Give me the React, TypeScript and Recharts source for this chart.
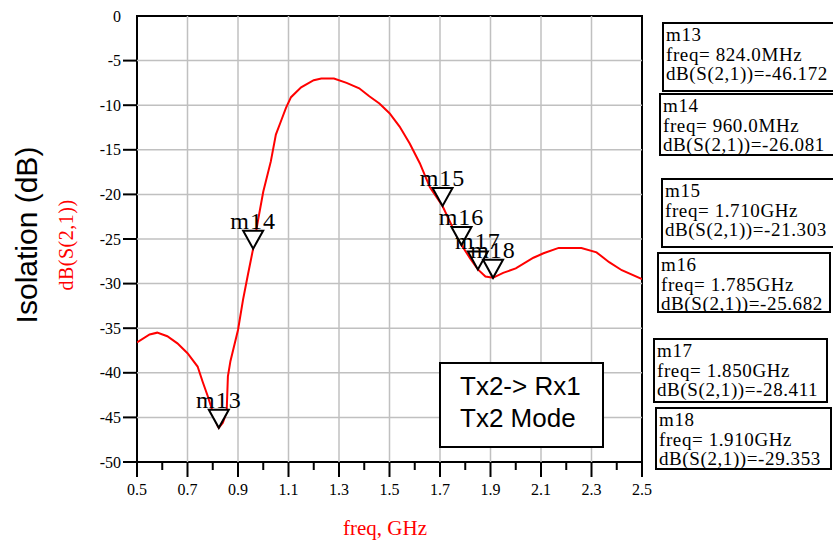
import React from "react";
import {
  ComposedChart,
  Line,
  XAxis,
  YAxis,
  ReferenceLine,
  ReferenceArea,
  ReferenceDot,
} from "recharts";

// S21 trace, freq in GHz, dB values
const freqs = [
  0.5, 0.55, 0.58, 0.62, 0.66, 0.7, 0.74, 0.76, 0.78, 0.8, 0.82, 0.824, 0.84,
  0.855, 0.86, 0.87, 0.9, 0.92, 0.94, 0.96, 0.98, 1.0, 1.03, 1.05, 1.07, 1.09,
  1.11, 1.15, 1.2, 1.23, 1.28, 1.33, 1.38, 1.42, 1.46, 1.5, 1.54, 1.58, 1.62,
  1.66, 1.71, 1.75, 1.785, 1.82, 1.85, 1.88, 1.91, 1.95, 2.0, 2.07, 2.11, 2.17,
  2.26, 2.32, 2.37, 2.42, 2.5,
];
const s21 = [
  -36.6, -35.7, -35.5, -35.9, -36.7, -37.8, -39.3, -41.0, -42.6, -44.4, -46.0,
  -46.17, -45.6, -44.4, -40.4, -38.7, -35.2, -31.8, -28.9, -26.08, -22.8,
  -19.7, -16.3, -13.3, -11.8, -10.3, -9.1, -8.0, -7.2, -7.0, -7.0, -7.5, -8.1,
  -9.0, -9.8, -10.9, -12.4, -14.3, -16.5, -19.2, -21.3, -23.7, -25.68, -27.2,
  -28.41, -29.2, -29.35, -28.8, -28.3, -27.1, -26.6, -26.0, -26.0, -26.5,
  -27.6, -28.5, -29.5,
];

// markers
const markerNames = ["m13", "m14", "m15", "m16", "m17", "m18"];
const markerFreqs = [0.824, 0.96, 1.71, 1.785, 1.85, 1.91];
const markerVals = [-46.172, -26.081, -21.303, -25.682, -28.411, -29.353];
const markerFreqText = ["824.0MHz", "960.0MHz", "1.710GHz", "1.785GHz", "1.850GHz", "1.910GHz"];

// axes
const xTicks = [
  0.5, 0.6, 0.7, 0.8, 0.9, 1.0, 1.1, 1.2, 1.3, 1.4, 1.5, 1.6, 1.7, 1.8, 1.9,
  2.0, 2.1, 2.2, 2.3, 2.4, 2.5,
];
const xGrid = [0.7, 0.9, 1.1, 1.3, 1.5, 1.7, 1.9, 2.1, 2.3];
const yTicks = [0, -5, -10, -15, -20, -25, -30, -35, -40, -45, -50];
const yGrid = [-5, -10, -15, -20, -25, -30, -35, -40, -45];

const serif = "'Liberation Serif', 'Times New Roman', serif";
const sans = "'Liberation Sans', Arial, sans-serif";

const chartData = freqs.map((f, i) => ({ f, v: s21[i] }));

// marker readout box placement (px)
const boxLayout = [
  { left: 662, top: 22, width: 180, height: 70 },
  { left: 659, top: 93, width: 180, height: 63 },
  { left: 661, top: 178, width: 180, height: 70 },
  { left: 657, top: 252, width: 174, height: 61 },
  { left: 653, top: 338, width: 175, height: 65 },
  { left: 655, top: 407, width: 177, height: 63 },
];

const XTick = (props: any) => {
  const { x, y, payload, index } = props;
  const major = index % 2 === 0;
  return (
    <g>
      <line x1={x} x2={x} y1={y} y2={y + (major ? 15 : 8)} stroke="#000" strokeWidth={2} />
      {major && (
        <text x={x} y={y + 33} textAnchor="middle" fontFamily={serif} fontSize={16} fill="#000">
          {payload.value.toFixed(1)}
        </text>
      )}
    </g>
  );
};

const YTick = (props: any) => {
  const { x, y, payload } = props;
  return (
    <g>
      {payload.value !== 0 && (
        <line x1={x - 14} x2={x} y1={y} y2={y} stroke="#000" strokeWidth={2} />
      )}
      <text x={x - 16} y={y} dy="0.35em" textAnchor="end" fontFamily={serif} fontSize={16} fill="#000">
        {payload.value}
      </text>
    </g>
  );
};

const markerShape = (name: string) => (props: any) => {
  const { cx, cy } = props;
  return (
    <g>
      <path
        d={`M${cx - 10},${cy - 18} L${cx + 10},${cy - 18} L${cx},${cy} Z`}
        fill="#fff"
        stroke="#000"
        strokeWidth={2}
      />
      <text x={cx} y={cy - 20} textAnchor="middle" fontFamily={serif} fontSize={24} letterSpacing={1} fill="#000">
        {name}
      </text>
    </g>
  );
};

export default function App() {
  return (
    <div style={{ position: "absolute", left: 0, top: 0, width: 833, height: 543, background: "#fff" }}>
      <ComposedChart
        width={833}
        height={543}
        data={chartData}
        margin={{ top: 16, right: 191, bottom: 51, left: 77 }}
      >
        <XAxis
          dataKey="f"
          type="number"
          domain={[0.5, 2.5]}
          ticks={xTicks}
          interval={0}
          tick={<XTick />}
          tickSize={0}
          tickMargin={0}
          tickLine={false}
          axisLine={false}
          height={30}
          allowDataOverflow
        />
        <YAxis
          type="number"
          domain={[-50, 0]}
          ticks={yTicks}
          interval={0}
          tick={<YTick />}
          tickSize={0}
          tickMargin={0}
          tickLine={false}
          axisLine={false}
          width={60}
          allowDataOverflow
        />
        {xGrid.map((g) => (
          <ReferenceLine key={"x" + g} x={g} stroke="#c0c0c0" strokeWidth={1.5} />
        ))}
        {yGrid.map((g) => (
          <ReferenceLine key={"y" + g} y={g} stroke="#c0c0c0" strokeWidth={1.5} />
        ))}
        <ReferenceArea
          x1={0.5}
          x2={2.5}
          y1={-50}
          y2={0}
          fill="none"
          fillOpacity={0}
          stroke="#000"
          strokeWidth={2}
          ifOverflow="visible"
        />
        <Line
          type="linear"
          dataKey="v"
          stroke="#ff0000"
          strokeWidth={2}
          dot={false}
          isAnimationActive={false}
        />
        {markerNames.map((n, i) => (
          <ReferenceDot
            key={n}
            x={markerFreqs[i]}
            y={markerVals[i]}
            r={10}
            ifOverflow="visible"
            shape={markerShape(n)}
          />
        ))}
      </ComposedChart>

      <svg
        width={833}
        height={543}
        style={{ position: "absolute", left: 0, top: 0, pointerEvents: "none" }}
      >
        <text transform="translate(37,235) rotate(-90)" textAnchor="middle" fontFamily={sans} fontSize={30} fill="#000">
          Isolation (dB)
        </text>
        <text transform="translate(73,245) rotate(-90)" textAnchor="middle" fontFamily={serif} fontSize={20} letterSpacing={0.5} fill="#ff0000">
          dB(S(2,1))
        </text>
        <text x={385} y={535} textAnchor="middle" fontFamily={serif} fontSize={21} fill="#ff0000">
          freq, GHz
        </text>
      </svg>

      <div
        style={{
          position: "absolute",
          left: 439,
          top: 362,
          width: 165,
          height: 86,
          boxSizing: "border-box",
          border: "2px solid #000",
          background: "#fff",
          fontFamily: sans,
          fontSize: 26,
          lineHeight: "32px",
          paddingLeft: 19,
          paddingTop: 6,
          color: "#000",
        }}
      >
        <div>Tx2-&gt; Rx1</div>
        <div>Tx2 Mode</div>
      </div>

      {markerNames.map((n, i) => (
        <div
          key={n}
          style={{
            position: "absolute",
            ...boxLayout[i],
            boxSizing: "border-box",
            border: "2px solid #000",
            background: "#fff",
            fontFamily: serif,
            fontSize: 19,
            letterSpacing: 0.6,
            lineHeight: "19.5px",
            paddingLeft: 2,
            paddingTop: 1,
            color: "#000",
            whiteSpace: "nowrap",
            overflow: "hidden",
          }}
        >
          <div>{n}</div>
          <div>freq= {markerFreqText[i]}</div>
          <div>dB(S(2,1))=-{Math.abs(markerVals[i]).toFixed(3)}</div>
        </div>
      ))}
    </div>
  );
}
